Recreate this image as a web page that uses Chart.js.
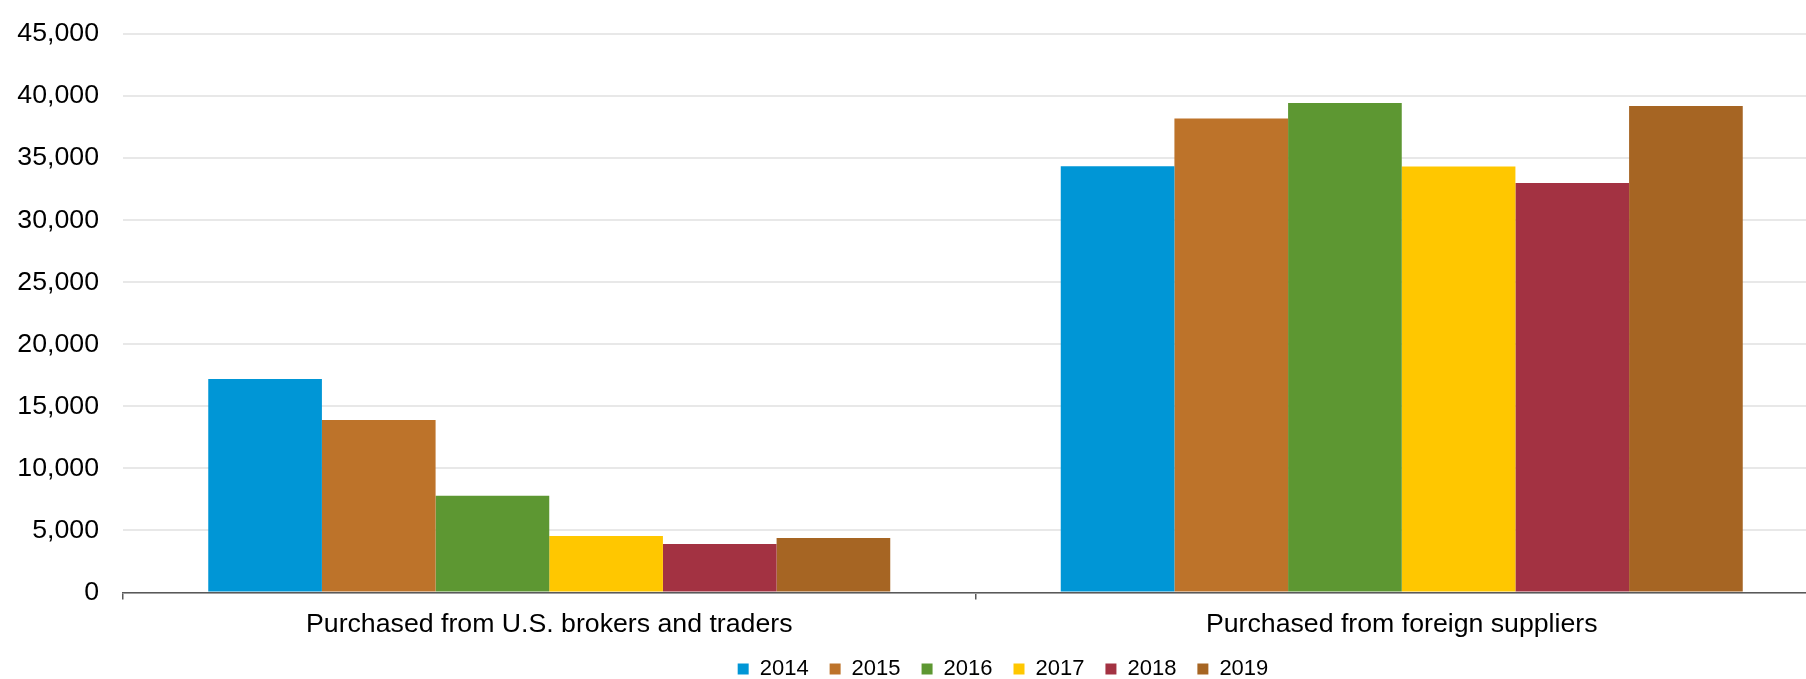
<!DOCTYPE html>
<html>
<head>
<meta charset="utf-8">
<title>Purchases</title>
<script src="https://cdn.jsdelivr.net/npm/chart.js@4/dist/chart.umd.min.js"></script>
<style>
    html, body { margin: 0; padding: 0; background: #ffffff; overflow: hidden; }
</style>
</head>
<body>
<canvas id="chart1" width="1830" height="679"></canvas>
<script>
var categories = ['Purchased from U.S. brokers and traders', 'Purchased from foreign suppliers'];
var years = ['2014', '2015', '2016', '2017', '2018', '2019'];
var values2014 = [17200, 34350];
var values2015 = [13900, 38200];
var values2016 = [7800, 39450];
var values2017 = [4550, 34320];
var values2018 = [3900, 33000];
var values2019 = [4400, 39200];
var colors = ['#0096d6', '#bd732a', '#5d9732', '#ffc700', '#a33242', '#a66523'];

// shift the legend a bit right, the original one is not centred on the canvas
var legendShift = {
    id: 'legendShift',
    afterLayout: function(chart) {
        chart.legend.left += 89;
        chart.legend.right += 89;
    }
};

function makeBarChart() {
    var series = [values2014, values2015, values2016, values2017, values2018, values2019];
    var datasets = years.map(function(y, i) {
        return {
            label: y,
            data: series[i],
            backgroundColor: colors[i],
            borderWidth: 0,
            barPercentage: 1.0,
            categoryPercentage: 0.8
        };
    });

    var ctx = document.getElementById('chart1').getContext('2d');
    var chart1 = new Chart(ctx, {
        type: 'bar',
        data: { labels: categories, datasets: datasets },
        plugins: [legendShift],
        options: {
            responsive: false,
            animation: false,
            layout: { padding: { left: 0, top: 34, right: 2, bottom: -11 } },
            plugins: {
                legend: {
                    position: 'bottom',
                    labels: {
                        color: '#000000',
                        font: { family: 'Liberation Sans', size: 22 },
                        boxWidth: 11,
                        boxHeight: 11,
                        padding: 21
                    }
                },
                title: { display: false },
                tooltip: { enabled: false }
            },
            scales: {
                x: {
                    afterFit: function(scale) { scale.height = 44.5; },
                    grid: {
                        drawOnChartArea: false,
                        drawTicks: true,
                        tickLength: 7,
                        color: '#595959',
                        lineWidth: 1.5
                    },
                    border: { color: '#595959', width: 1.5 },
                    ticks: {
                        color: '#000000',
                        font: { family: 'Liberation Sans', size: 26.7 },
                        padding: 9
                    }
                },
                y: {
                    min: 0,
                    max: 45000,
                    afterFit: function(scale) {
                        scale.width = 123;
                        scale.paddingTop = 0;
                        scale.paddingBottom = 0;
                    },
                    grid: { color: '#e8e8e8', lineWidth: 2, drawTicks: false },
                    border: { display: false },
                    ticks: {
                        stepSize: 5000,
                        color: '#000000',
                        font: { family: 'Liberation Sans', size: 26.7 },
                        padding: 24
                    }
                }
            }
        }
    });
}

window.onload = function() {
    makeBarChart();
};
</script>
</body>
</html>
